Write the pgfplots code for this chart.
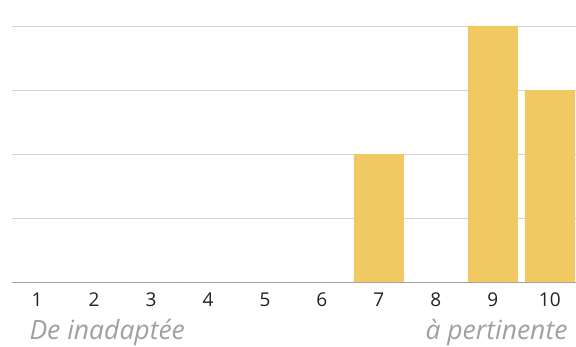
\documentclass[border=0pt]{standalone}
\usepackage{fontspec}
\setmainfont{Open Sans}
\usepackage{pgfplots}
\pgfplotsset{compat=1.18}
\definecolor{barfill}{HTML}{F0C962}
\definecolor{gridgray}{HTML}{D3D3D3}
\definecolor{axisgray}{HTML}{9E9E9E}
\definecolor{ticktext}{HTML}{222222}
\definecolor{notegray}{HTML}{A0A0A0}
\begin{document}
\begin{tikzpicture}
\path[use as bounding box] (-12bp,-65bp) rectangle (564bp,282bp);
\begin{axis}[
  scale only axis,
  width=564bp, height=256bp,
  xmin=0.56, xmax=10.46,
  ymin=0, ymax=4,
  axis x line=bottom,
  axis y line*=left,
  x axis line style={draw=axisgray, line width=1bp, -},
  y axis line style={draw=none},
  xtick={1,...,10},
  xtick style={draw=none},
  xticklabel style={font=\fontsize{19bp}{23bp}\selectfont, text=ticktext, yshift=-5bp},
  /pgf/number format/assume math mode=true,
  ytick={0,1,2,3,4},
  ytick style={draw=none},
  yticklabels={},
  ymajorgrids,
  major grid style={draw=gridgray, line width=0.9bp},
  clip=false,
]
\addplot[ybar, bar width=50bp, fill=barfill, draw=none]
  coordinates {(1,0) (2,0) (3,0) (4,0) (5,0) (6,0) (7,2) (8,0) (9,4) (10,3)};
\node[anchor=base west, font=\itshape\fontsize{26.5bp}{31bp}\selectfont, text=notegray]
  at ([xshift=14bp, yshift=-57.5bp] rel axis cs:0,0) {De inadaptée};
\node[anchor=base east, font=\itshape\fontsize{26.5bp}{31bp}\selectfont, text=notegray]
  at ([xshift=-5bp, yshift=-57.5bp] rel axis cs:1,0) {à pertinente};
\end{axis}
\end{tikzpicture}
\end{document}
